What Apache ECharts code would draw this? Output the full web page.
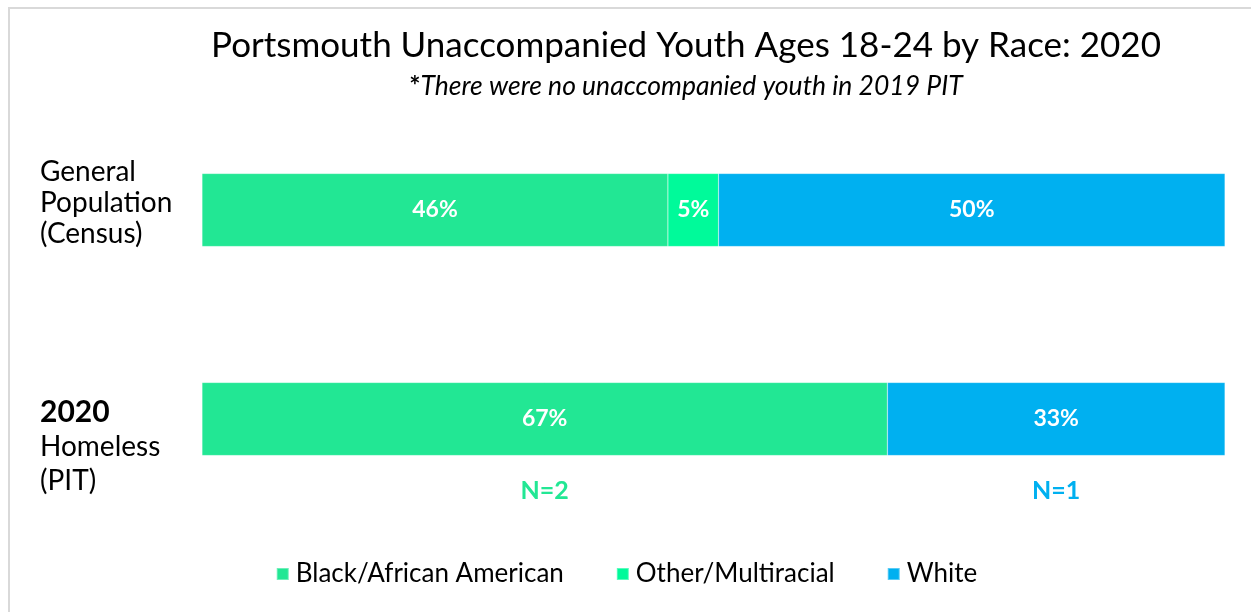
<!DOCTYPE html>
<html>
<head>
<meta charset="utf-8">
<script src="https://cdn.jsdelivr.net/npm/echarts@6/dist/echarts.min.js"></script>
<style>
  html, body { margin: 0; padding: 0; background: #fff; }
  #frame { position: absolute; left: 8px; top: 7px; width: 1243px; height: 610px; border-left: 2px solid #d9d9d9; border-top: 2px solid #d9d9d9; box-sizing: border-box; }
  #chart { position: absolute; left: 0; top: 0; width: 1253px; height: 612px; }
</style>
</head>
<body>
<div id="frame"></div>
<div id="chart"></div>
<script>
// Rows of the stacked bar, top to bottom
const categories = ['General Population (Census)', '2020 Homeless (PIT)'];
// Share of each race group per row, in percent (as labelled)
const seriesNames = ['Black/African American', 'Other/Multiracial', 'White'];
const blackShare = [46, 67];
const otherShare = [5, 0];
const whiteShare = [50, 33];
// Number of people counted in the PIT row, per group shown under the bar
const pitCounts = [2, null, 1];

const colors = ['#22E794', '#00FA9A', '#00B0F0'];
const FONT = 'Lato, "Open Sans", sans-serif';

const shares = [blackShare, otherShare, whiteShare];
// Row totals can be 101 because of rounding; normalize each row to fill the bar
const rowTotals = categories.map((_, i) => shares.reduce((s, a) => s + a[i], 0));

const chart = echarts.init(document.getElementById('chart'));

const series = seriesNames.map((name, k) => ({
  name,
  type: 'bar',
  stack: 'race',
  barWidth: 73,
  itemStyle: { color: colors[k], borderColor: 'rgba(255,255,255,0.35)', borderWidth: 0.5 },
  label: {
    show: true,
    position: 'inside',
    color: '#fff',
    fontFamily: FONT,
    fontSize: 23,
    fontWeight: 'bold',
    formatter: p => p.data.raw + '%'
  },
  data: shares[k].map((v, i) => v > 0
    ? { value: v / rowTotals[i] * 100, raw: v }
    : { value: 0, raw: 0, label: { show: false } })
}));

chart.setOption({
  animation: false,
  title: {
    text: 'Portsmouth Unaccompanied Youth Ages 18-24 by Race: 2020',
    subtext: '{b|*}{i|There were no unaccompanied youth in 2019 PIT}',
    left: 681,
    textAlign: 'center',
    top: 23,
    itemGap: 10,
    textStyle: { fontFamily: FONT, fontSize: 35, fontWeight: 'normal', color: '#000' },
    subtextStyle: {
      rich: {
        b: { fontFamily: FONT, fontSize: 26.5, fontWeight: 'bold', color: '#000' },
        i: { fontFamily: FONT, fontSize: 26.5, fontStyle: 'italic', color: '#000' }
      }
    }
  },
  legend: {
    bottom: 20,
    left: 'center',
    icon: 'rect',
    itemWidth: 12,
    itemHeight: 12,
    itemGap: 52,
    textStyle: { fontFamily: FONT, fontSize: 26, color: '#000', padding: [0, 0, 0, 2] },
    data: seriesNames
  },
  grid: { left: 202, right: 28, top: 105.5, bottom: 88.5, outerBoundsMode: 'none', containLabel: false },
  xAxis: {
    type: 'value',
    min: 0,
    max: 100,
    show: false
  },
  yAxis: {
    type: 'category',
    inverse: true,
    axisLine: { show: false },
    axisTick: { show: false },
    axisLabel: {
      margin: 162,
      align: 'left',
      fontFamily: FONT,
      color: '#000',
      rich: {
        n: { fontFamily: FONT, fontSize: 28, lineHeight: 31, color: '#000', align: 'left' },
        m: { fontFamily: FONT, fontSize: 28, lineHeight: 34, color: '#000', align: 'left' },
        y: { fontFamily: FONT, fontSize: 30, lineHeight: 36, fontWeight: 'bold', color: '#000', align: 'left' }
      },
      formatter: (v, i) => i === 0
        ? '{n|General}\n{n|Population}\n{n|(Census)}'
        : '{y|2020}\n{m|Homeless}\n{m|(PIT)}'
    },
    data: [
      { value: categories[0], textStyle: { align: 'left', padding: [0, 0, 14, 0] } },
      { value: categories[1], textStyle: { align: 'left', padding: [54, 0, 0, 0] } }
    ]
  },
  series
});

// Count annotations under the PIT bar, centred on each segment
const pitRow = 1;
const texts = [];
let cum = 0;
shares.forEach((arr, k) => {
  const v = arr[pitRow] / rowTotals[pitRow] * 100;
  if (pitCounts[k] != null && v > 0) {
    const c = chart.convertToPixel({ gridIndex: 0 }, [cum + v / 2, categories[pitRow]]);
    texts.push({
      type: 'text',
      x: c[0],
      y: c[1] + 72,
      style: {
        text: 'N=' + pitCounts[k],
        fill: colors[k],
        font: 'bold 25px ' + FONT,
        align: 'center',
        verticalAlign: 'middle'
      }
    });
  }
  cum += v;
});
chart.setOption({ graphic: texts });
</script>
</body>
</html>
